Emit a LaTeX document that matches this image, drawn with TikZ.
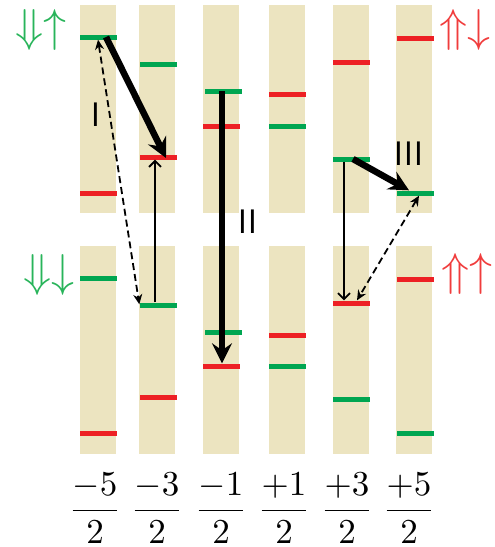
\documentclass[tikz,border=0pt]{standalone}
\usepackage{amsmath}
\usepackage{graphicx}
\usetikzlibrary{arrows.meta}
\definecolor{bandbg}{RGB}{236,228,192}
\definecolor{lvlgreen}{RGB}{0,166,81}
\definecolor{lvlred}{RGB}{237,32,36}
\definecolor{spingreen}{RGB}{40,180,90}
\definecolor{spinred}{RGB}{240,60,60}
\newcommand{\spinpair}[1]{\scalebox{4.6}{$#1$}}
\newcommand{\mfrac}[1]{\scalebox{3.5}{$\dfrac{#1}{2}$}}
\tikzset{
  band/.style={rectangle, fill=bandbg, minimum width=36pt, minimum height=208pt, inner sep=0pt},
  lvl/.style={rectangle, minimum width=37pt, minimum height=5pt, inner sep=0pt},
  bigarrow/.style={line width=6.5pt, -{Stealth[length=20pt,width=20pt,inset=7pt]}},
  thinarrow/.style={line width=1.8pt, -{Straight Barb[length=6pt,width=12pt]}},
  dasharrow/.style={line width=1.8pt, dash pattern=on 7pt off 4pt, {Stealth[length=10pt,width=9pt]}-{Stealth[length=10pt,width=9pt]}},
  spinlbl/.style={inner sep=0pt},
  pathlbl/.style={font=\fontsize{34}{34}\selectfont\sffamily, inner sep=0pt},
  mlbl/.style={inner sep=0pt}
}
\begin{document}
\begin{tikzpicture}[x=1pt,y=-1pt]
\useasboundingbox (0,0) rectangle (495,547);
% columns
\foreach \i/\x in {1/98,2/157,3/221,4/287,5/351,6/414}{
  \node[band] (ta\i) at (\x,109) {};
  \node[band] (bb\i) at (\x,349.5) {};
}
% upper panel levels
\node[lvl, fill=lvlgreen] (ga1) at (98,37){};
\node[lvl, fill=lvlred] (ra1) at (98,193){};
\node[lvl, fill=lvlgreen] (ga2) at (158,64){};
\node[lvl, fill=lvlred] (ra2) at (158,157){};
\node[lvl, fill=lvlgreen] (ga3) at (223,91){};
\node[lvl, fill=lvlred] (ra3) at (221,126){};
\node[lvl, fill=lvlred] (ra4) at (287,94){};
\node[lvl, fill=lvlgreen] (ga4) at (287,126){};
\node[lvl, fill=lvlred] (ra5) at (351,62){};
\node[lvl, fill=lvlgreen] (ga5) at (351,159){};
\node[lvl, fill=lvlred] (ra6) at (415,38){};
\node[lvl, fill=lvlgreen] (ga6) at (415,193){};
% lower panel levels
\node[lvl, fill=lvlgreen] (gb1) at (98,278){};
\node[lvl, fill=lvlred] (rb1) at (98,433){};
\node[lvl, fill=lvlgreen] (gb2) at (158,305){};
\node[lvl, fill=lvlred] (rb2) at (158,397){};
\node[lvl, fill=lvlgreen] (gb3) at (223,332){};
\node[lvl, fill=lvlred] (rb3) at (221,366){};
\node[lvl, fill=lvlred] (rb4) at (287,335){};
\node[lvl, fill=lvlgreen] (gb4) at (287,366){};
\node[lvl, fill=lvlred] (rb5) at (351,303){};
\node[lvl, fill=lvlgreen] (gb5) at (351,399){};
\node[lvl, fill=lvlred] (rb6) at (415,279){};
\node[lvl, fill=lvlgreen] (gb6) at (415,433){};
% spin labels
\node[spinlbl, text=spingreen] (sda) at (41,30) {\spinpair{\Downarrow\uparrow}};
\node[spinlbl, text=spingreen] (sdb) at (49,275) {\spinpair{\Downarrow\downarrow}};
\node[spinlbl, text=spinred] (sua) at (465,30) {\spinpair{\Uparrow\downarrow}};
\node[spinlbl, text=spinred] (sub) at (467,274) {\spinpair{\Uparrow\uparrow}};
% path labels
\node[pathlbl] (p1) at (96,115) {I};
\node[pathlbl] (p2) at (248,222) {II};
\node[pathlbl] (p3) at (409,154) {III};
% path I
\draw[bigarrow] ([xshift=8pt]ga1.center) -- ([xshift=8pt,yshift=-1pt]ra2.center);
\draw[thinarrow] ([xshift=-3pt]gb2.north) -- ([xshift=-3pt]ra2.south);
\draw[dasharrow] (ga1.south) -- ([yshift=-2pt]gb2.north west);
% path II
\draw[bigarrow] ([xshift=-1pt]ga3.center) -- ([xshift=1pt]rb3.north);
% path III
\draw[bigarrow] ([xshift=2pt]ga5.center) -- ([xshift=-6pt]ga6.north);
\draw[thinarrow] ([xshift=-7pt]ga5.south) -- ([xshift=-7pt]rb5.north);
\draw[dasharrow] ([xshift=4pt]ga6.south) -- ([xshift=6pt]rb5.north);
% magnetic quantum numbers
\foreach \i/\x/\m in {1/95/-5,2/157/-3,3/221/-1,4/284/+1,5/347/+3,6/409/+5}{
  \node[mlbl] (m\i) at (\x,508) {\mfrac{\m}};
}
\end{tikzpicture}
\end{document}
